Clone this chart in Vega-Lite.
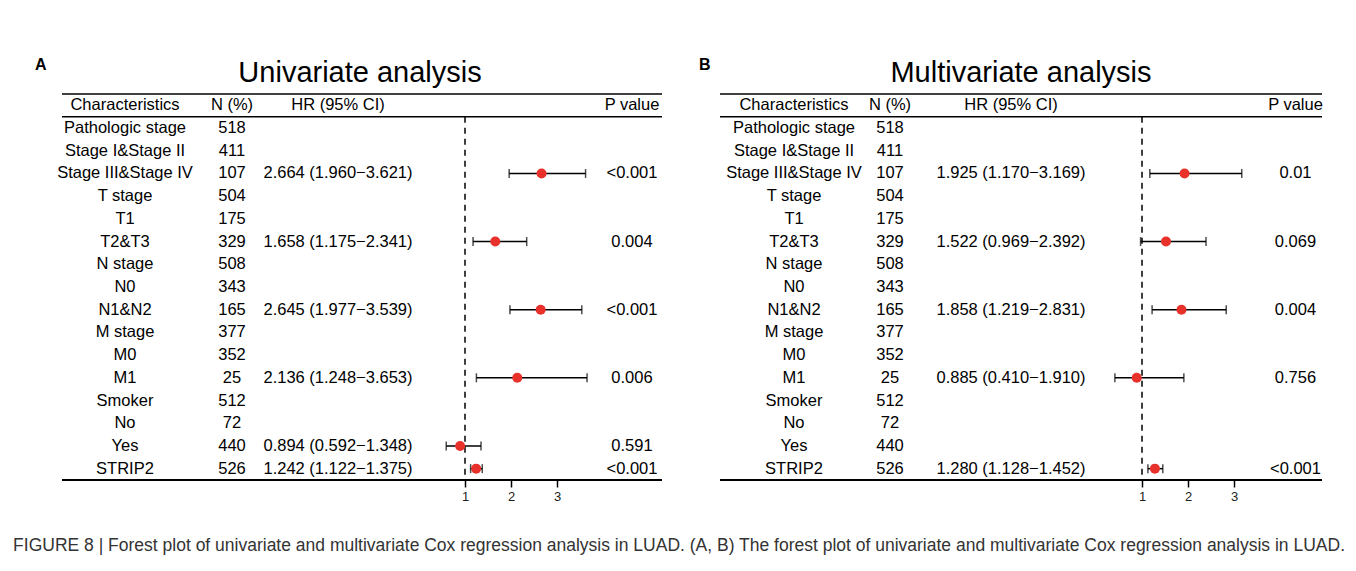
{
  "$schema": "https://vega.github.io/schema/vega-lite/v6.json",
  "autosize": {"type": "pad"},
  "padding": {"left": 13, "top": 57, "right": 4, "bottom": 4},
  "background": "white",
  "title": {"text": "FIGURE 8 | Forest plot of univariate and multivariate Cox regression analysis in LUAD. (A, B) The forest plot of univariate and multivariate Cox regression analysis in LUAD.", "orient": "bottom", "anchor": "start", "dx": -22, "offset": 34, "fontSize": 17.5, "fontWeight": "normal", "color": "#333333", "font": "Liberation Sans"},
  "datasets": {
    "uni": [
      {"row": "Characteristics", "n": "N (%)", "hrText": "HR (95% CI)", "p": "P value"},
      {"row": "Pathologic stage", "n": "518", "hrText": "", "p": ""},
      {"row": "Stage I&Stage II", "n": "411", "hrText": "", "p": ""},
      {"row": "Stage III&Stage IV", "n": "107", "hrText": "2.664 (1.960−3.621)", "p": "<0.001", "hr": 2.664, "lo": 1.960, "hi": 3.621},
      {"row": "T stage", "n": "504", "hrText": "", "p": ""},
      {"row": "T1", "n": "175", "hrText": "", "p": ""},
      {"row": "T2&T3", "n": "329", "hrText": "1.658 (1.175−2.341)", "p": "0.004", "hr": 1.658, "lo": 1.175, "hi": 2.341},
      {"row": "N stage", "n": "508", "hrText": "", "p": ""},
      {"row": "N0", "n": "343", "hrText": "", "p": ""},
      {"row": "N1&N2", "n": "165", "hrText": "2.645 (1.977−3.539)", "p": "<0.001", "hr": 2.645, "lo": 1.977, "hi": 3.539},
      {"row": "M stage", "n": "377", "hrText": "", "p": ""},
      {"row": "M0", "n": "352", "hrText": "", "p": ""},
      {"row": "M1", "n": "25", "hrText": "2.136 (1.248−3.653)", "p": "0.006", "hr": 2.136, "lo": 1.248, "hi": 3.653},
      {"row": "Smoker", "n": "512", "hrText": "", "p": ""},
      {"row": "No", "n": "72", "hrText": "", "p": ""},
      {"row": "Yes", "n": "440", "hrText": "0.894 (0.592−1.348)", "p": "0.591", "hr": 0.894, "lo": 0.592, "hi": 1.348},
      {"row": "STRIP2", "n": "526", "hrText": "1.242 (1.122−1.375)", "p": "<0.001", "hr": 1.242, "lo": 1.122, "hi": 1.375}
    ],
    "multi": [
      {"row": "Characteristics", "n": "N (%)", "hrText": "HR (95% CI)", "p": "P value"},
      {"row": "Pathologic stage", "n": "518", "hrText": "", "p": ""},
      {"row": "Stage I&Stage II", "n": "411", "hrText": "", "p": ""},
      {"row": "Stage III&Stage IV", "n": "107", "hrText": "1.925 (1.170−3.169)", "p": "0.01", "hr": 1.925, "lo": 1.170, "hi": 3.169},
      {"row": "T stage", "n": "504", "hrText": "", "p": ""},
      {"row": "T1", "n": "175", "hrText": "", "p": ""},
      {"row": "T2&T3", "n": "329", "hrText": "1.522 (0.969−2.392)", "p": "0.069", "hr": 1.522, "lo": 0.969, "hi": 2.392},
      {"row": "N stage", "n": "508", "hrText": "", "p": ""},
      {"row": "N0", "n": "343", "hrText": "", "p": ""},
      {"row": "N1&N2", "n": "165", "hrText": "1.858 (1.219−2.831)", "p": "0.004", "hr": 1.858, "lo": 1.219, "hi": 2.831},
      {"row": "M stage", "n": "377", "hrText": "", "p": ""},
      {"row": "M0", "n": "352", "hrText": "", "p": ""},
      {"row": "M1", "n": "25", "hrText": "0.885 (0.410−1.910)", "p": "0.756", "hr": 0.885, "lo": 0.410, "hi": 1.910},
      {"row": "Smoker", "n": "512", "hrText": "", "p": ""},
      {"row": "No", "n": "72", "hrText": "", "p": ""},
      {"row": "Yes", "n": "440", "hrText": "", "p": ""},
      {"row": "STRIP2", "n": "526", "hrText": "1.280 (1.128−1.452)", "p": "<0.001", "hr": 1.280, "lo": 1.128, "hi": 1.452}
    ]
  },
  "spacing": 36,
  "hconcat": [
    {
      "title": {"text": "A", "anchor": "start", "dx": -22, "dy": 18, "fontSize": 16, "fontWeight": "bold", "color": "black"},
      "hconcat": [
        {
          "title": {"text": "Univariate analysis", "anchor": "middle", "fontSize": 29, "fontWeight": "normal", "offset": 5, "color": "black"},
          "spacing": 0,
          "bounds": "flush",
          "hconcat": [
            {
              "width": 126, "height": 386, "data": {"name": "uni"},
              "encoding": {"y": {"field": "row", "type": "nominal", "sort": null, "axis": null, "scale": {"domain": ["Characteristics", "Pathologic stage", "Stage I&Stage II", "Stage III&Stage IV", "T stage", "T1", "T2&T3", "N stage", "N0", "N1&N2", "M stage", "M0", "M1", "Smoker", "No", "Yes", "STRIP2"], "paddingInner": 0, "paddingOuter": 0}}},
              "layer": [
                {"data": {"values": [{}]}, "mark": {"type": "rule", "strokeWidth": 1.5, "color": "black"}, "encoding": {"y": {"datum": "Characteristics", "type": "nominal", "bandPosition": 0}}},
                {"data": {"values": [{}]}, "mark": {"type": "rule", "strokeWidth": 1.5, "color": "black"}, "encoding": {"y": {"datum": "Characteristics", "type": "nominal", "bandPosition": 1}}},
                {"data": {"values": [{}]}, "mark": {"type": "rule", "strokeWidth": 2, "color": "black"}, "encoding": {"y": {"datum": "STRIP2", "type": "nominal", "bandPosition": 1}}},
                {"mark": {"type": "text", "fontSize": 16.5, "color": "black"}, "encoding": {"text": {"field": "row", "type": "nominal"}}}
              ]
            },
            {
              "width": 88, "height": 386, "data": {"name": "uni"},
              "encoding": {"y": {"field": "row", "type": "nominal", "sort": null, "axis": null, "scale": {"domain": ["Characteristics", "Pathologic stage", "Stage I&Stage II", "Stage III&Stage IV", "T stage", "T1", "T2&T3", "N stage", "N0", "N1&N2", "M stage", "M0", "M1", "Smoker", "No", "Yes", "STRIP2"], "paddingInner": 0, "paddingOuter": 0}}},
              "layer": [
                {"data": {"values": [{}]}, "mark": {"type": "rule", "strokeWidth": 1.5, "color": "black"}, "encoding": {"y": {"datum": "Characteristics", "type": "nominal", "bandPosition": 0}}},
                {"data": {"values": [{}]}, "mark": {"type": "rule", "strokeWidth": 1.5, "color": "black"}, "encoding": {"y": {"datum": "Characteristics", "type": "nominal", "bandPosition": 1}}},
                {"data": {"values": [{}]}, "mark": {"type": "rule", "strokeWidth": 2, "color": "black"}, "encoding": {"y": {"datum": "STRIP2", "type": "nominal", "bandPosition": 1}}},
                {"mark": {"type": "text", "fontSize": 16.5, "color": "black"}, "encoding": {"text": {"field": "n", "type": "nominal"}}}
              ]
            },
            {
              "width": 124, "height": 386, "data": {"name": "uni"},
              "encoding": {"y": {"field": "row", "type": "nominal", "sort": null, "axis": null, "scale": {"domain": ["Characteristics", "Pathologic stage", "Stage I&Stage II", "Stage III&Stage IV", "T stage", "T1", "T2&T3", "N stage", "N0", "N1&N2", "M stage", "M0", "M1", "Smoker", "No", "Yes", "STRIP2"], "paddingInner": 0, "paddingOuter": 0}}},
              "layer": [
                {"data": {"values": [{}]}, "mark": {"type": "rule", "strokeWidth": 1.5, "color": "black"}, "encoding": {"y": {"datum": "Characteristics", "type": "nominal", "bandPosition": 0}}},
                {"data": {"values": [{}]}, "mark": {"type": "rule", "strokeWidth": 1.5, "color": "black"}, "encoding": {"y": {"datum": "Characteristics", "type": "nominal", "bandPosition": 1}}},
                {"data": {"values": [{}]}, "mark": {"type": "rule", "strokeWidth": 2, "color": "black"}, "encoding": {"y": {"datum": "STRIP2", "type": "nominal", "bandPosition": 1}}},
                {"mark": {"type": "text", "fontSize": 16.5, "color": "black"}, "encoding": {"text": {"field": "hrText", "type": "nominal"}}}
              ]
            },
            {
              "width": 202, "height": 386, "data": {"name": "uni"},
              "encoding": {"y": {"field": "row", "type": "nominal", "sort": null, "axis": null, "scale": {"domain": ["Characteristics", "Pathologic stage", "Stage I&Stage II", "Stage III&Stage IV", "T stage", "T1", "T2&T3", "N stage", "N0", "N1&N2", "M stage", "M0", "M1", "Smoker", "No", "Yes", "STRIP2"], "paddingInner": 0, "paddingOuter": 0}}},
              "layer": [
                {"data": {"values": [{}]}, "mark": {"type": "rule", "strokeWidth": 1.5, "color": "black"}, "encoding": {"y": {"datum": "Characteristics", "type": "nominal", "bandPosition": 0}}},
                {"data": {"values": [{}]}, "mark": {"type": "rule", "strokeWidth": 1.5, "color": "black"}, "encoding": {"y": {"datum": "Characteristics", "type": "nominal", "bandPosition": 1}}},
                {"data": {"values": [{}]}, "mark": {"type": "rule", "strokeWidth": 2, "color": "black"}, "encoding": {"y": {"datum": "STRIP2", "type": "nominal", "bandPosition": 1}}},
                {"data": {"values": [{}]}, "mark": {"type": "rule", "strokeWidth": 1.5, "strokeDash": [6, 5], "color": "black"}, "encoding": {"x": {"datum": 1, "type": "quantitative", "title": null, "scale": {"domain": [-0.413, 3.978], "nice": false, "zero": false}, "axis": {"values": [1, 2, 3], "format": "d", "domain": false, "grid": false, "ticks": true, "tickSize": 7, "tickWidth": 1.5, "tickColor": "black", "labelFontSize": 13, "labelColor": "#222222", "labelPadding": 3, "title": null, "orient": "bottom"}}, "y": {"datum": "Pathologic stage", "type": "nominal", "bandPosition": 0}, "y2": {"datum": "STRIP2", "bandPosition": 1}}},
                {"mark": {"type": "rule", "strokeWidth": 1.5, "color": "black"}, "encoding": {"x": {"field": "lo", "type": "quantitative", "title": null}, "x2": {"field": "hi"}}},
                {"mark": {"type": "tick", "orient": "vertical", "size": 9, "thickness": 1.5, "color": "black"}, "encoding": {"x": {"field": "lo", "type": "quantitative", "title": null}}},
                {"mark": {"type": "tick", "orient": "vertical", "size": 9, "thickness": 1.5, "color": "black"}, "encoding": {"x": {"field": "hi", "type": "quantitative", "title": null}}},
                {"mark": {"type": "circle", "size": 100, "color": "#e8312b", "opacity": 1}, "encoding": {"x": {"field": "hr", "type": "quantitative", "title": null}}}
              ]
            },
            {
              "width": 60, "height": 386, "data": {"name": "uni"},
              "encoding": {"y": {"field": "row", "type": "nominal", "sort": null, "axis": null, "scale": {"domain": ["Characteristics", "Pathologic stage", "Stage I&Stage II", "Stage III&Stage IV", "T stage", "T1", "T2&T3", "N stage", "N0", "N1&N2", "M stage", "M0", "M1", "Smoker", "No", "Yes", "STRIP2"], "paddingInner": 0, "paddingOuter": 0}}},
              "layer": [
                {"data": {"values": [{}]}, "mark": {"type": "rule", "strokeWidth": 1.5, "color": "black"}, "encoding": {"y": {"datum": "Characteristics", "type": "nominal", "bandPosition": 0}}},
                {"data": {"values": [{}]}, "mark": {"type": "rule", "strokeWidth": 1.5, "color": "black"}, "encoding": {"y": {"datum": "Characteristics", "type": "nominal", "bandPosition": 1}}},
                {"data": {"values": [{}]}, "mark": {"type": "rule", "strokeWidth": 2, "color": "black"}, "encoding": {"y": {"datum": "STRIP2", "type": "nominal", "bandPosition": 1}}},
                {"mark": {"type": "text", "fontSize": 16.5, "color": "black"}, "encoding": {"text": {"field": "p", "type": "nominal"}}}
              ]
            }
          ]
        }
      ]
    },
    {
      "title": {"text": "B", "anchor": "start", "dx": -20, "dy": 18, "fontSize": 16, "fontWeight": "bold", "color": "black"},
      "hconcat": [
        {
          "title": {"text": "Multivariate analysis", "anchor": "middle", "fontSize": 29, "fontWeight": "normal", "offset": 5, "color": "black"},
          "spacing": 0,
          "bounds": "flush",
          "hconcat": [
            {
              "width": 148, "height": 386, "data": {"name": "multi"},
              "encoding": {"y": {"field": "row", "type": "nominal", "sort": null, "axis": null, "scale": {"domain": ["Characteristics", "Pathologic stage", "Stage I&Stage II", "Stage III&Stage IV", "T stage", "T1", "T2&T3", "N stage", "N0", "N1&N2", "M stage", "M0", "M1", "Smoker", "No", "Yes", "STRIP2"], "paddingInner": 0, "paddingOuter": 0}}},
              "layer": [
                {"data": {"values": [{}]}, "mark": {"type": "rule", "strokeWidth": 1.5, "color": "black"}, "encoding": {"y": {"datum": "Characteristics", "type": "nominal", "bandPosition": 0}}},
                {"data": {"values": [{}]}, "mark": {"type": "rule", "strokeWidth": 1.5, "color": "black"}, "encoding": {"y": {"datum": "Characteristics", "type": "nominal", "bandPosition": 1}}},
                {"data": {"values": [{}]}, "mark": {"type": "rule", "strokeWidth": 2, "color": "black"}, "encoding": {"y": {"datum": "STRIP2", "type": "nominal", "bandPosition": 1}}},
                {"mark": {"type": "text", "fontSize": 16.5, "color": "black"}, "encoding": {"text": {"field": "row", "type": "nominal"}}}
              ]
            },
            {
              "width": 44, "height": 386, "data": {"name": "multi"},
              "encoding": {"y": {"field": "row", "type": "nominal", "sort": null, "axis": null, "scale": {"domain": ["Characteristics", "Pathologic stage", "Stage I&Stage II", "Stage III&Stage IV", "T stage", "T1", "T2&T3", "N stage", "N0", "N1&N2", "M stage", "M0", "M1", "Smoker", "No", "Yes", "STRIP2"], "paddingInner": 0, "paddingOuter": 0}}},
              "layer": [
                {"data": {"values": [{}]}, "mark": {"type": "rule", "strokeWidth": 1.5, "color": "black"}, "encoding": {"y": {"datum": "Characteristics", "type": "nominal", "bandPosition": 0}}},
                {"data": {"values": [{}]}, "mark": {"type": "rule", "strokeWidth": 1.5, "color": "black"}, "encoding": {"y": {"datum": "Characteristics", "type": "nominal", "bandPosition": 1}}},
                {"data": {"values": [{}]}, "mark": {"type": "rule", "strokeWidth": 2, "color": "black"}, "encoding": {"y": {"datum": "STRIP2", "type": "nominal", "bandPosition": 1}}},
                {"mark": {"type": "text", "fontSize": 16.5, "color": "black"}, "encoding": {"text": {"field": "n", "type": "nominal"}}}
              ]
            },
            {
              "width": 198, "height": 386, "data": {"name": "multi"},
              "encoding": {"y": {"field": "row", "type": "nominal", "sort": null, "axis": null, "scale": {"domain": ["Characteristics", "Pathologic stage", "Stage I&Stage II", "Stage III&Stage IV", "T stage", "T1", "T2&T3", "N stage", "N0", "N1&N2", "M stage", "M0", "M1", "Smoker", "No", "Yes", "STRIP2"], "paddingInner": 0, "paddingOuter": 0}}},
              "layer": [
                {"data": {"values": [{}]}, "mark": {"type": "rule", "strokeWidth": 1.5, "color": "black"}, "encoding": {"y": {"datum": "Characteristics", "type": "nominal", "bandPosition": 0}}},
                {"data": {"values": [{}]}, "mark": {"type": "rule", "strokeWidth": 1.5, "color": "black"}, "encoding": {"y": {"datum": "Characteristics", "type": "nominal", "bandPosition": 1}}},
                {"data": {"values": [{}]}, "mark": {"type": "rule", "strokeWidth": 2, "color": "black"}, "encoding": {"y": {"datum": "STRIP2", "type": "nominal", "bandPosition": 1}}},
                {"mark": {"type": "text", "fontSize": 16.5, "color": "black"}, "encoding": {"text": {"field": "hrText", "type": "nominal"}}}
              ]
            },
            {
              "width": 159, "height": 386, "data": {"name": "multi"},
              "encoding": {"y": {"field": "row", "type": "nominal", "sort": null, "axis": null, "scale": {"domain": ["Characteristics", "Pathologic stage", "Stage I&Stage II", "Stage III&Stage IV", "T stage", "T1", "T2&T3", "N stage", "N0", "N1&N2", "M stage", "M0", "M1", "Smoker", "No", "Yes", "STRIP2"], "paddingInner": 0, "paddingOuter": 0}}},
              "layer": [
                {"data": {"values": [{}]}, "mark": {"type": "rule", "strokeWidth": 1.5, "color": "black"}, "encoding": {"y": {"datum": "Characteristics", "type": "nominal", "bandPosition": 0}}},
                {"data": {"values": [{}]}, "mark": {"type": "rule", "strokeWidth": 1.5, "color": "black"}, "encoding": {"y": {"datum": "Characteristics", "type": "nominal", "bandPosition": 1}}},
                {"data": {"values": [{}]}, "mark": {"type": "rule", "strokeWidth": 2, "color": "black"}, "encoding": {"y": {"datum": "STRIP2", "type": "nominal", "bandPosition": 1}}},
                {"data": {"values": [{}]}, "mark": {"type": "rule", "strokeWidth": 1.5, "strokeDash": [6, 5], "color": "black"}, "encoding": {"x": {"datum": 1, "type": "quantitative", "title": null, "scale": {"domain": [0.304, 3.761], "nice": false, "zero": false}, "axis": {"values": [1, 2, 3], "format": "d", "domain": false, "grid": false, "ticks": true, "tickSize": 7, "tickWidth": 1.5, "tickColor": "black", "labelFontSize": 13, "labelColor": "#222222", "labelPadding": 3, "title": null, "orient": "bottom"}}, "y": {"datum": "Pathologic stage", "type": "nominal", "bandPosition": 0}, "y2": {"datum": "STRIP2", "bandPosition": 1}}},
                {"mark": {"type": "rule", "strokeWidth": 1.5, "color": "black"}, "encoding": {"x": {"field": "lo", "type": "quantitative", "title": null}, "x2": {"field": "hi"}}},
                {"mark": {"type": "tick", "orient": "vertical", "size": 9, "thickness": 1.5, "color": "black"}, "encoding": {"x": {"field": "lo", "type": "quantitative", "title": null}}},
                {"mark": {"type": "tick", "orient": "vertical", "size": 9, "thickness": 1.5, "color": "black"}, "encoding": {"x": {"field": "hi", "type": "quantitative", "title": null}}},
                {"mark": {"type": "circle", "size": 100, "color": "#e8312b", "opacity": 1}, "encoding": {"x": {"field": "hr", "type": "quantitative", "title": null}}}
              ]
            },
            {
              "width": 53, "height": 386, "data": {"name": "multi"},
              "encoding": {"y": {"field": "row", "type": "nominal", "sort": null, "axis": null, "scale": {"domain": ["Characteristics", "Pathologic stage", "Stage I&Stage II", "Stage III&Stage IV", "T stage", "T1", "T2&T3", "N stage", "N0", "N1&N2", "M stage", "M0", "M1", "Smoker", "No", "Yes", "STRIP2"], "paddingInner": 0, "paddingOuter": 0}}},
              "layer": [
                {"data": {"values": [{}]}, "mark": {"type": "rule", "strokeWidth": 1.5, "color": "black"}, "encoding": {"y": {"datum": "Characteristics", "type": "nominal", "bandPosition": 0}}},
                {"data": {"values": [{}]}, "mark": {"type": "rule", "strokeWidth": 1.5, "color": "black"}, "encoding": {"y": {"datum": "Characteristics", "type": "nominal", "bandPosition": 1}}},
                {"data": {"values": [{}]}, "mark": {"type": "rule", "strokeWidth": 2, "color": "black"}, "encoding": {"y": {"datum": "STRIP2", "type": "nominal", "bandPosition": 1}}},
                {"mark": {"type": "text", "fontSize": 16.5, "color": "black"}, "encoding": {"text": {"field": "p", "type": "nominal"}}}
              ]
            }
          ]
        }
      ]
    }
  ],
  "config": {
    "view": {"stroke": null},
    "font": "Liberation Sans",
    "text": {"font": "Liberation Sans"},
    "title": {"font": "Liberation Sans", "color": "black"},
    "axis": {"labelFont": "Liberation Sans"}
  }
}
